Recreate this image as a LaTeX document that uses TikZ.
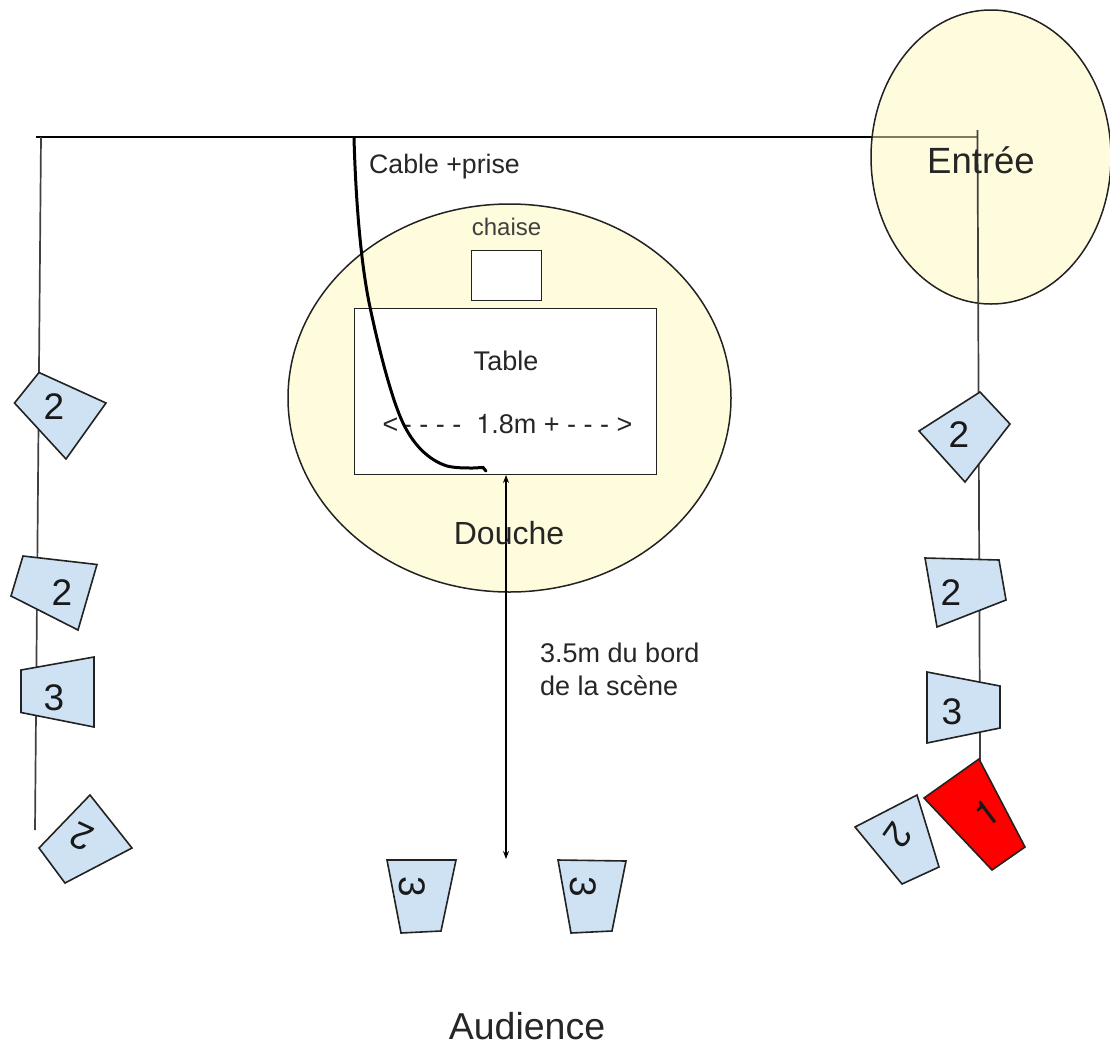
\documentclass[tikz,border=0pt]{standalone}
\usepackage{fontspec}
\setmainfont{Liberation Sans}
\newfontfamily\heros{TeX Gyre Heros}
\usetikzlibrary{arrows.meta}
\definecolor{paleyellow}{HTML}{FFF7BB}
\definecolor{paleblue}{HTML}{CFE2F3}
\definecolor{inkline}{HTML}{222222}
\tikzset{
  x=1pt,y=-1pt,
  spot/.style={draw=inkline,line width=1.6pt,fill=paleblue},
  redspot/.style={draw=inkline,line width=1.6pt,fill=red},
  zone/.style={draw=inkline,line width=1.5pt,fill=paleyellow,fill opacity=0.5},
  plain/.style={draw=inkline,line width=1.5pt,fill=white},
  wire/.style={draw=black!75,line width=1.7pt},
  digit/.style={font=\fontsize{37}{37}\selectfont,inner sep=0pt,text=black!90},
  lab/.style={inner sep=0pt,align=left,text=black!85},
}
\begin{document}
\begin{tikzpicture}
\useasboundingbox (0,0) rectangle (1110,1047);
\clip (0,0) rectangle (1110,1047);
% wires under the zones
\coordinate (topL) at (36,137);
\coordinate (topC) at (41,137);
\coordinate (topR) at (977,137);
\coordinate (topV) at (977.5,130);
\coordinate (botL) at (35,830);
\coordinate (botR) at (980,762);
\draw[wire,draw=black] (topL) -- (topR);
% zones
\draw[zone] (991,157) ellipse [x radius=120,y radius=147];
\draw[zone] (509.5,398) ellipse [x radius=221.5,y radius=194];
\draw[wire] (topC) -- (botL);
\draw[wire] (topV) -- (botR);
% furniture
\node[plain,minimum width=70pt,minimum height=50pt,inner sep=0pt,anchor=north west] (chair) at (470.5,249.5) {};
\node[plain,minimum width=302pt,minimum height=166pt,inner sep=0pt,anchor=north west] (table) at (353.5,307.5) {};
% labels under the cable
\node[lab,font=\fontsize{27}{27}\selectfont] (dim) at (507.5,424) {<\,- - - -\ \ {\heros 1}.8m + - - - >};
% cable
\draw[black,line width=3pt,line cap=round] (354,138) .. controls (356,210) and (362,270) .. (370,307)
  .. controls (379,350) and (392,400) .. (403,423)
  .. controls (413,444) and (428,460) .. (447,466)
  .. controls (455,468) and (465,468) .. (473,468) -- (483,467.5) -- (486,471);
% dimension arrow
\coordinate (arrowT) at (506,475);
\coordinate (arrowB) at (506,859);
\draw[black,line width=1.2pt,{Stealth[length=8pt,width=6pt]}-{Stealth[length=8pt,width=6pt]}] (arrowT) -- (arrowB);
% spots
\draw[spot] (39,372.5) -- (106,403) -- (66,459) -- (14.5,403) -- cycle;
\draw[spot] (23,556) -- (97,564.5) -- (78,630) -- (11,596) -- cycle;
\draw[spot] (21,670) -- (94,657) -- (94,727) -- (21,712.5) -- cycle;
\draw[spot] (90,795) -- (132,848) -- (65,883) -- (39,848) -- cycle;
\draw[spot] (980,392) -- (1010,424) -- (965,482) -- (919,431) -- cycle;
\draw[spot] (925,558) -- (999,560) -- (1006,600) -- (937,627) -- cycle;
\draw[spot] (927,672) -- (1000,686) -- (1000,728) -- (927,743) -- cycle;
\draw[redspot] (979,759) -- (1025,847) -- (992,870) -- (924,798) -- cycle;
\draw[spot] (917,795) -- (939,867) -- (902,884) -- (855,827) -- cycle;
\draw[spot] (387,860) -- (456,860) -- (441,931) -- (401,933) -- cycle;
\draw[spot] (558,860) -- (626,861) -- (612,931) -- (571,933) -- cycle;
% digits
\node[digit] (d1) at (54,407) {2};
\node[digit] (d2) at (62,593) {2};
\node[digit] (d3) at (54,698) {3};
\node[digit,rotate=155] (d4) at (82,837) {2};
\node[digit] (d5) at (959,435) {2};
\node[digit] (d6) at (951,593) {2};
\node[digit] (d7) at (952,712) {3};
\node[digit,rotate=-125] (d8) at (898,835) {2};
\node[digit,rotate=37] (d9) at (987,813) {\heros 1};
\node[digit,rotate=-90] (d10) at (412,887) {3};
\node[digit,rotate=-90] (d11) at (583,887) {3};
% labels
\node[lab,font=\fontsize{26.7}{26.7}\selectfont,anchor=west] (cable) at (369,167) {Cable +prise};
\node[lab,font=\fontsize{24}{24}\selectfont,text=black!75] (chaise) at (506.5,227) {chaise};
\node[lab,font=\fontsize{27}{27}\selectfont] (tab) at (506,361) {Table};
\node[lab,font=\fontsize{32}{32}\selectfont] (douche) at (509,533) {Douche};
\node[lab,font=\fontsize{36.5}{36.5}\selectfont] (entree) at (981,160) {Entrée};
\node[lab,font=\fontsize{27}{33}\selectfont,anchor=north west] (dist) at (540,643) {3.5m du bord\\de la scène};
\node[lab,font=\fontsize{37.5}{37.5}\selectfont] (aud) at (527,1026) {Audience};
\end{tikzpicture}
\end{document}
